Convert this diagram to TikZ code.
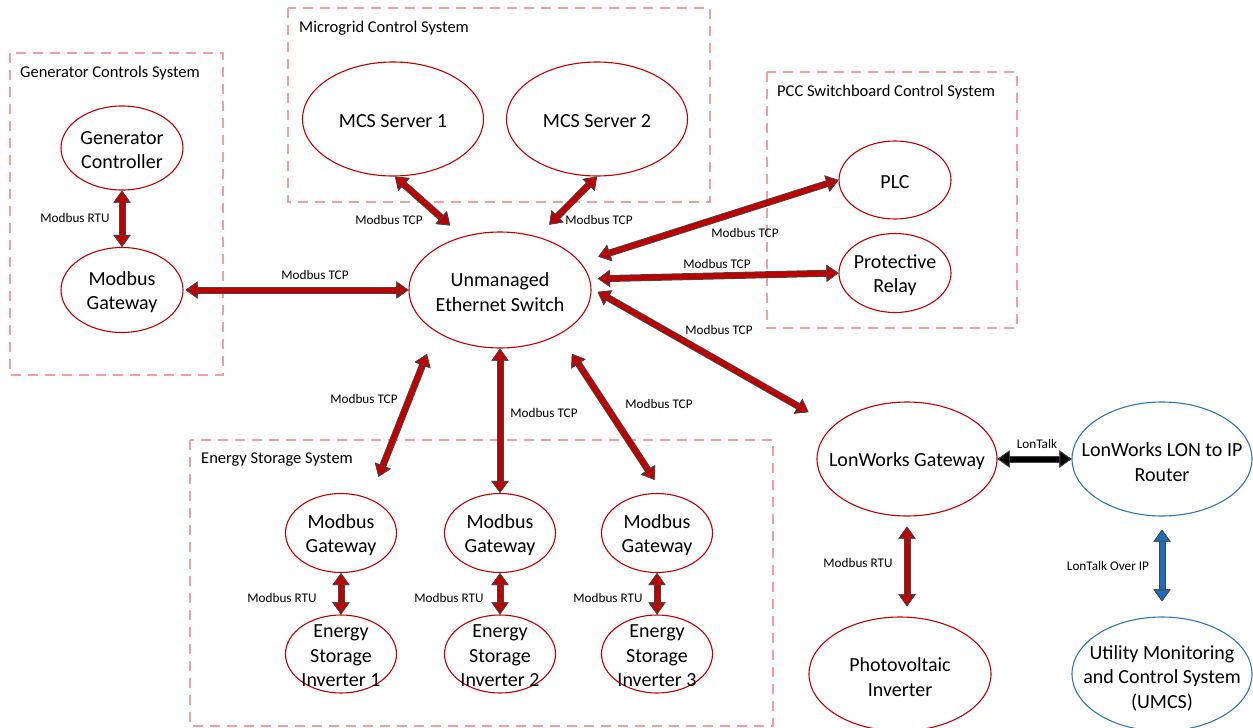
\documentclass[tikz,border=0pt]{standalone}
\usepackage{fontspec}
\setmainfont{Carlito}
\usetikzlibrary{shapes.geometric,arrows.meta}

\definecolor{unitred}{RGB}{192,0,0}
\definecolor{unitblue}{RGB}{46,117,182}
\definecolor{boxpink}{RGB}{240,160,160}
\definecolor{arrred}{RGB}{192,0,0}
\definecolor{arrblue}{RGB}{30,110,190}
\definecolor{arrline}{RGB}{70,70,70}

\tikzset{
  unit/.style={ellipse, draw=#1, line width=1.1pt, inner sep=0pt},
  unit/.default=unitred,
  utext/.style={align=center, font=\fontsize{20}{24.5}\selectfont, inner sep=0pt, yshift=-2pt},
  proto/.style={font=\fontsize{13.2}{15}\selectfont, inner sep=0pt, yshift=-1.5pt},
  sysbox/.style={draw=boxpink, line width=1.3pt, dash pattern=on 10pt off 7pt},
  systitle/.style={anchor=west, font=\fontsize{16.5}{19}\selectfont, inner sep=0pt, yshift=-1.5pt},
  link/.style={line width=5pt, draw=#1,
    {Triangle[length=12pt,width=17pt,line width=0.8pt,fill=#1,color=arrline]}-{Triangle[length=12pt,width=17pt,line width=0.8pt,fill=#1,color=arrline]},
    preaction={draw=arrline, line width=7pt}},
  link/.default=arrred,
}

\begin{document}
\begin{tikzpicture}[x=1pt,y=-1pt]
\useasboundingbox (0,0) rectangle (1253,728);

% system boxes
\draw[sysbox] (10,53) rectangle (223,375);
\node[systitle] (gcs-t) at (20,72) {Generator Controls System};
\draw[sysbox] (288,8) rectangle (710,202);
\node[systitle] (mcs-t) at (299,27) {Microgrid Control System};
\draw[sysbox] (767,72) rectangle (1017,328);
\node[systitle] (pcc-t) at (777,91) {PCC Switchboard Control System};
\draw[sysbox] (190,440) rectangle (773,726);
\node[systitle] (ess-t) at (201,458) {Energy Storage System};

% generator controls
\node[unit, minimum width=122pt, minimum height=84pt] (gctl) at (122,148) {};
\node[utext] (gctl-t) at (gctl) {Generator\\Controller};
\node[unit, minimum width=122pt, minimum height=85pt] (ggw) at (122,290) {};
\node[utext] (ggw-t) at (ggw) {Modbus\\Gateway};

% microgrid control
\node[unit, minimum width=181pt, minimum height=114pt] (mcs1) at (393,119) {};
\node[utext] (mcs1-t) at (mcs1) {MCS Server 1};
\node[unit, minimum width=181pt, minimum height=114pt] (mcs2) at (597,119) {};
\node[utext] (mcs2-t) at (mcs2) {MCS Server 2};

% switch
\node[unit, minimum width=182pt, minimum height=116pt] (sw) at (500,290) {};
\node[utext] (sw-t) at (sw) {Unmanaged\\Ethernet Switch};

% pcc switchboard
\node[unit, minimum width=112pt, minimum height=78pt] (plc) at (895,180) {};
\node[utext] (plc-t) at (plc) {PLC};
\node[unit, minimum width=112pt, minimum height=79pt] (relay) at (895,273) {};
\node[utext] (relay-t) at (relay) {Protective\\Relay};

% lonworks side
\node[unit, minimum width=180pt, minimum height=114pt] (lgw) at (907,459) {};
\node[utext] (lgw-t) at (lgw) {LonWorks Gateway};
\node[unit=unitblue, minimum width=180pt, minimum height=114pt] (rtr) at (1162,459) {};
\node[utext] (rtr-t) at (1162,460) {LonWorks LON to IP\\Router};
\node[unit, minimum width=182pt, minimum height=114pt] (pv) at (900,674) {};
\node[utext] (pv-t) at (900,675) {Photovoltaic\\Inverter};
\node[unit=unitblue, minimum width=180pt, minimum height=114pt] (umcs) at (1162,674) {};
\node[utext] (umcs-t) at (1162,676) {Utility Monitoring\\and Control System\\(UMCS)};

% energy storage
\foreach \i/\x in {1/341,2/500,3/657} {
  \node[unit, minimum width=111pt, minimum height=79pt] (gw\i) at (\x,533) {};
  \node[utext] (gw\i-t) at (gw\i) {Modbus\\Gateway};
  \node[unit, minimum width=111pt, minimum height=78pt] (inv\i) at (\x,654) {};
  \node[utext] (inv\i-t) at (inv\i) {Energy\\Storage\\Inverter \i};
}

% links
\draw[link] (gctl) -- (ggw);
\draw[link, shorten <=2pt] (ggw) -- (sw);
\draw[link, shorten >=16.7pt] (mcs1.-88) -- (sw.125.5);
\draw[link, shorten >=16.7pt] (mcs2.south) -- (sw.55.8);
\draw[link, shorten >=18.5pt] (plc.west) -- (sw.19.7);
\draw[link, shorten >=8pt] (relay.west) -- (sw.7.5);
\draw[link, shorten <=7pt, shorten >=28pt] (sw.1.6) -- (lgw.156.8);
\draw[link, shorten <=24pt, shorten >=23.5pt] (sw.213.7) -- (gw1.50.5);
\draw[link] (sw) -- (gw2);
\draw[link, shorten <=23pt, shorten >=16pt] (sw.-37.4) -- (gw3.81.3);
\foreach \i in {1,2,3} \draw[link] (gw\i) -- (inv\i);
\draw[link=black] (lgw) -- (rtr);
\draw[link, shorten <=10pt, shorten >=10pt] (lgw.south) -- (lgw.south |- pv.north);
\draw[link=arrblue, shorten <=13pt, shorten >=15pt] (rtr) -- (umcs);

% protocol labels
\node[proto] (l-grtu) at (75,216) {Modbus RTU};
\node[proto] (l-gtcp) at (315,273) {Modbus TCP};
\node[proto] (l-m1) at (389,218) {Modbus TCP};
\node[proto] (l-m2) at (599,218) {Modbus TCP};
\node[proto] (l-plc) at (745,231) {Modbus TCP};
\node[proto] (l-rel) at (717,262) {Modbus TCP};
\node[proto] (l-lgw) at (719,328) {Modbus TCP};
\node[proto] (l-e1) at (364,397) {Modbus TCP};
\node[proto] (l-e2) at (544,411) {Modbus TCP};
\node[proto] (l-e3) at (659,402) {Modbus TCP};
\node[proto] (l-r1) at (282,596) {Modbus RTU};
\node[proto] (l-r2) at (449,596) {Modbus RTU};
\node[proto] (l-r3) at (608,596) {Modbus RTU};
\node[proto] (l-lon) at (1037,442) {LonTalk};
\node[proto] (l-pv) at (858,561) {Modbus RTU};
\node[proto] (l-ip) at (1108,564) {LonTalk Over IP};
\end{tikzpicture}
\end{document}
